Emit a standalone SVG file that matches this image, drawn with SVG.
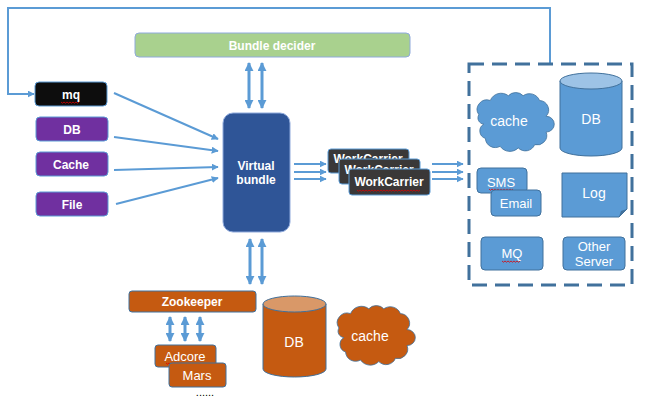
<svg xmlns="http://www.w3.org/2000/svg" width="652" height="401" viewBox="0 0 652 401">
  <defs>
    <marker id="ah" viewBox="0 0 10 10" refX="9" refY="5" markerWidth="7" markerHeight="7" markerUnits="userSpaceOnUse" orient="auto">
      <path d="M0,0 L10,5 L0,10 z" fill="#5B9BD5"/>
    </marker>
    <marker id="bh" viewBox="0 0 10 10" refX="9" refY="5" markerWidth="9" markerHeight="9" markerUnits="userSpaceOnUse" orient="auto-start-reverse">
      <path d="M0,0 L10,5 L0,10 z" fill="#5B9BD5"/>
    </marker>
    <path id="cloud" d="M12,30 a12,12 0 0 1 14,-18 a14,14 0 0 1 22,-6 a12,12 0 0 1 18,0 a13,13 0 0 1 20,6 a12,12 0 0 1 8,20 a10,10 0 0 1 0,20 a12,12 0 0 1 -14,16 a12,12 0 0 1 -20,4 a14,14 0 0 1 -22,-2 a12,12 0 0 1 -18,-10 a10,10 0 0 1 -2,-18 a8,8 0 0 1 -6,-12 z"/>
  </defs>
  <style>
    text { font-family: "Liberation Sans", Arial, sans-serif; fill: #ffffff; text-anchor: middle; }
    .b { font-weight: bold; font-size: 12px; }
    .n { font-size: 14px; }
    .s { font-size: 13px; }
    .link { stroke: #5B9BD5; stroke-width: 2; fill: none; }
    .dbl { stroke: #5B9BD5; stroke-width: 3; fill: none; }
    .blue { fill: #5B9BD5; stroke: #41719C; stroke-width: 1; }
    .org { fill: #C55A11; stroke: #41719C; stroke-width: 1; }
    .pur { fill: #7030A0; stroke: #5B9BD5; stroke-width: 1; }
    .dark { fill: #3A3838; stroke: #5B9BD5; stroke-width: 1; }
    .squig { stroke: #E00000; stroke-width: 0.8; fill: none; }
  </style>

  <rect width="652" height="401" fill="#ffffff"/>

  <!-- connectors -->
  <g id="connectors">
    <!-- feedback loop from the service area back to mq -->
    <polyline class="link" points="550,64 550,8 8,8 8,94 34,94" marker-end="url(#ah)"/>
    <!-- sources into the virtual bundle -->
    <line class="link" x1="114" y1="93" x2="218" y2="139" marker-end="url(#ah)"/>
    <line class="link" x1="114" y1="137" x2="218" y2="151" marker-end="url(#ah)"/>
    <line class="link" x1="114" y1="170" x2="218" y2="167" marker-end="url(#ah)"/>
    <line class="link" x1="116" y1="204" x2="218" y2="178" marker-end="url(#ah)"/>
    <!-- bundle decider <-> virtual bundle -->
    <line class="dbl" x1="249" y1="63" x2="249" y2="108" marker-start="url(#bh)" marker-end="url(#bh)"/>
    <line class="dbl" x1="262" y1="63" x2="262" y2="108" marker-start="url(#bh)" marker-end="url(#bh)"/>
    <!-- virtual bundle -> work carriers -->
    <line class="link" x1="294" y1="164" x2="326" y2="164" marker-end="url(#ah)"/>
    <line class="link" x1="294" y1="172" x2="326" y2="172" marker-end="url(#ah)"/>
    <line class="link" x1="294" y1="179" x2="326" y2="179" marker-end="url(#ah)"/>
    <!-- work carriers -> services -->
    <line class="link" x1="432" y1="164" x2="463" y2="164" marker-end="url(#ah)"/>
    <line class="link" x1="432" y1="172" x2="463" y2="172" marker-end="url(#ah)"/>
    <line class="link" x1="432" y1="179" x2="463" y2="179" marker-end="url(#ah)"/>
    <!-- virtual bundle <-> zookeeper -->
    <line class="dbl" x1="250" y1="239" x2="250" y2="284" marker-start="url(#bh)" marker-end="url(#bh)"/>
    <line class="dbl" x1="262" y1="239" x2="262" y2="284" marker-start="url(#bh)" marker-end="url(#bh)"/>
    <!-- zookeeper <-> registered services -->
    <line class="dbl" x1="170" y1="317" x2="170" y2="341" marker-start="url(#bh)" marker-end="url(#bh)"/>
    <line class="dbl" x1="185" y1="317" x2="185" y2="341" marker-start="url(#bh)" marker-end="url(#bh)"/>
    <line class="dbl" x1="200" y1="317" x2="200" y2="341" marker-start="url(#bh)" marker-end="url(#bh)"/>
  </g>

  <!-- bundle decider -->
  <g id="bundle-decider">
    <rect x="135" y="33" width="275" height="24" rx="4" fill="#A9D18E" stroke="#8FAADC"/>
    <text class="b" x="272" y="49.5">Bundle decider</text>
  </g>

  <!-- sources -->
  <g id="src-mq">
    <rect x="35" y="82" width="72" height="24" rx="4" fill="#0D0D0D" stroke="#5B9BD5"/>
    <text class="b" x="71" y="98.5">mq</text>
    <path class="squig" d="M61,102 l1.5,1.2 l1.5,-1.2 l1.5,1.2 l1.5,-1.2 l1.5,1.2 l1.5,-1.2 l1.5,1.2 l1.5,-1.2 l1.5,1.2 l1.5,-1.2 l1.5,1.2 l1.5,-1.2"/>
  </g>
  <g id="src-db">
    <rect class="pur" x="36" y="117" width="72" height="24" rx="4"/>
    <text class="b" x="72" y="133.5">DB</text>
  </g>
  <g id="src-cache">
    <rect class="pur" x="36" y="152" width="72" height="24" rx="4"/>
    <text class="b" x="71" y="168.5">Cache</text>
  </g>
  <g id="src-file">
    <rect class="pur" x="36" y="192" width="72" height="24" rx="4"/>
    <text class="b" x="72" y="208.5">File</text>
  </g>

  <!-- virtual bundle -->
  <g id="virtual-bundle">
    <rect x="223" y="113" width="67" height="119" rx="10" fill="#2F5597" stroke="#8FAADC"/>
    <text class="b" x="256" y="170">Virtual</text>
    <text class="b" x="256" y="184">bundle</text>
  </g>

  <!-- work carriers, stacked -->
  <g id="work-carriers">
    <rect class="dark" x="328" y="149" width="81" height="24" rx="3"/>
    <text class="b" x="368" y="163">WorkCarrier</text>
    <rect class="dark" x="339" y="159" width="81" height="25" rx="3"/>
    <text class="b" x="379" y="174">WorkCarrier</text>
    <rect class="dark" x="349" y="169" width="81" height="26" rx="3"/>
    <text class="b" x="389" y="186">WorkCarrier</text>
    <path class="squig" d="M357,190 l1.5,1.2 l1.5,-1.2 l1.5,1.2 l1.5,-1.2 l1.5,1.2 l1.5,-1.2 l1.5,1.2 l1.5,-1.2 l1.5,1.2 l1.5,-1.2 l1.5,1.2 l1.5,-1.2 l1.5,1.2 l1.5,-1.2 l1.5,1.2 l1.5,-1.2 l1.5,1.2 l1.5,-1.2 l1.5,1.2 l1.5,-1.2 l1.5,1.2 l1.5,-1.2 l1.5,1.2 l1.5,-1.2 l1.5,1.2 l1.5,-1.2 l1.5,1.2 l1.5,-1.2 l1.5,1.2 l1.5,-1.2 l1.5,1.2 l1.5,-1.2 l1.5,1.2 l1.5,-1.2 l1.5,1.2 l1.5,-1.2 l1.5,1.2 l1.5,-1.2 l1.5,1.2 l1.5,-1.2 l1.5,1.2 l1.5,-1.2"/>
  </g>

  <!-- external services -->
  <g id="services">
    <rect x="469" y="64" width="163" height="221" fill="none" stroke="#41719C" stroke-width="3" stroke-dasharray="15,8"/>
  </g>
  <g id="svc-cache">
    <use href="#cloud" class="blue" transform="translate(469,91) scale(0.82,0.79)" vector-effect="non-scaling-stroke"/>
    <text class="n" x="509" y="126">cache</text>
  </g>
  <g id="svc-db">
    <path class="blue" d="M560,81 V148 A31,8 0 0 0 622,148 V81"/>
    <ellipse cx="591" cy="81" rx="31" ry="8" fill="#9DC3E6" stroke="#41719C"/>
    <text class="n" x="591" y="124">DB</text>
  </g>
  <g id="svc-sms">
    <rect class="blue" x="477" y="168" width="50" height="25" rx="4"/>
    <text class="s" x="501" y="187">SMS</text>
    <path class="squig" d="M489,189 l1.5,1.2 l1.5,-1.2 l1.5,1.2 l1.5,-1.2 l1.5,1.2 l1.5,-1.2 l1.5,1.2 l1.5,-1.2 l1.5,1.2 l1.5,-1.2 l1.5,1.2 l1.5,-1.2 l1.5,1.2 l1.5,-1.2 l1.5,1.2 l1.5,-1.2"/>
  </g>
  <g id="svc-email">
    <rect class="blue" x="491" y="190" width="50" height="26" rx="4"/>
    <text class="s" x="516" y="208">Email</text>
  </g>
  <g id="svc-log">
    <path class="blue" d="M562,173 H627 V209 L619,217 H562 Z"/>
    <path d="M627,209 L621,211 L619,217 Z" fill="#41719C"/>
    <text class="n" x="594" y="198">Log</text>
  </g>
  <g id="svc-mq">
    <rect class="blue" x="481" y="237" width="62" height="33" rx="4"/>
    <text class="s" x="512" y="258">MQ</text>
    <path class="squig" d="M502,261 l1.5,1.2 l1.5,-1.2 l1.5,1.2 l1.5,-1.2 l1.5,1.2 l1.5,-1.2 l1.5,1.2 l1.5,-1.2 l1.5,1.2 l1.5,-1.2 l1.5,1.2 l1.5,-1.2"/>
  </g>
  <g id="svc-other">
    <rect class="blue" x="563" y="237" width="62" height="33" rx="4"/>
    <text class="s" x="594" y="251">Other</text>
    <text class="s" x="594" y="266">Server</text>
  </g>

  <!-- coordination layer -->
  <g id="zookeeper">
    <rect class="org" x="129" y="291" width="127" height="21" rx="3"/>
    <text class="b" x="192" y="306">Zookeeper</text>
  </g>
  <g id="adcore">
    <rect class="org" x="155" y="345" width="61" height="22" rx="3"/>
    <text class="s" x="185" y="361">Adcore</text>
    <path class="squig" d="M166,363 l1.5,1.2 l1.5,-1.2 l1.5,1.2 l1.5,-1.2 l1.5,1.2 l1.5,-1.2 l1.5,1.2 l1.5,-1.2 l1.5,1.2 l1.5,-1.2 l1.5,1.2 l1.5,-1.2"/>
  </g>
  <g id="mars">
    <rect class="org" x="169" y="363" width="57" height="24" rx="3"/>
    <text class="s" x="197" y="380">Mars</text>
  </g>
  <text x="205" y="396" style="fill:#000000;font-size:11px">......</text>
  <g id="store-db">
    <path class="org" d="M263,304 V369 A31.5,8 0 0 0 326,369 V304"/>
    <ellipse cx="294.5" cy="304" rx="31.5" ry="8" fill="#D99868" stroke="#41719C"/>
    <text class="n" x="294" y="347">DB</text>
  </g>
  <g id="store-cache">
    <use href="#cloud" class="org" transform="translate(329,304) scale(0.83,0.8)" vector-effect="non-scaling-stroke"/>
    <text class="n" x="370" y="341">cache</text>
  </g>
</svg>
